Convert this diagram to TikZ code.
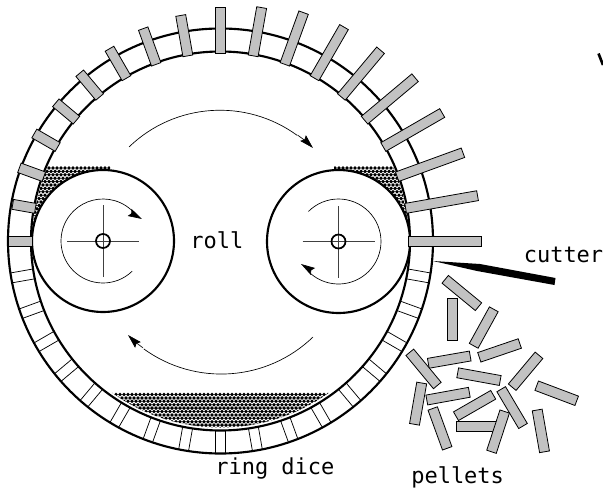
\documentclass[tikz,border=0pt]{standalone}
\usepackage{fontspec}
\setmonofont{DejaVu Sans Mono}
\usetikzlibrary{arrows.meta,calc}
\tikzset{
  x=.75pt,y=.75pt,
  ringline/.style={draw=black,line width=1.6pt},
  holeline/.style={draw=black,line width=.55pt},
  thinarc/.style={draw=black,line width=.5pt},
  crossline/.style={draw=black!75,line width=.75pt},
  pellet/.style={draw=black,fill=black!24,line width=.6pt,line join=miter},
  bigarrow/.style={thinarc,-{Stealth[length=10.5pt,width=6pt,inset=1.5pt]}},
  label/.style={font=\ttfamily\fontsize{16.5pt}{18pt}\selectfont,inner sep=0pt,anchor=base west,text=black}
}
\newcommand{\loosepellet}[4]{%
  \draw[pellet] ($(#1,#2)!3.75pt!90:(#3,#4)$) -- ($(#1,#2)!3.75pt!-90:(#3,#4)$) -- ($(#3,#4)!3.75pt!90:(#1,#2)$) -- ($(#3,#4)!3.75pt!-90:(#1,#2)$) -- cycle;}
\begin{document}
\begin{tikzpicture}
\useasboundingbox (0,0) rectangle (603,490);
\coordinate (c) at (220.5,249);
\coordinate (lr) at (103,249);
\coordinate (rr) at (338.5,248.5);
% feed material
\begin{scope}
  \clip (c) circle[radius=188];
  \clip (30,324) rectangle (110,240) (334,324) rectangle (412,240);
  \foreach \j in {0,...,26}{
    \pgfmathsetmacro{\yy}{322-\j*3.4}
    \pgfmathsetmacro{\off}{mod(\j,2)*2}
    \foreach \i in {0,...,20}{
      \fill[black] ({29+\off+\i*4},\yy) circle[radius=1.9];
      \fill[black] ({335+\off+\i*4},\yy) circle[radius=1.9];
    }
  }
\end{scope}
\begin{scope}
  \clip (c) circle[radius=186.5];
  \clip (100,97.5) rectangle (340,50);
  \foreach \j in {0,...,12}{
    \pgfmathsetmacro{\yy}{95.5-\j*3.4}
    \pgfmathsetmacro{\off}{mod(\j,2)*2}
    \foreach \i in {0,...,60}{
      \fill[black] ({100+\off+\i*4},\yy) circle[radius=1.9];
    }
  }
\end{scope}
% ring die
\draw[ringline] (c) circle[radius=212.5];
\draw[ringline] (c) circle[radius=189.5];
% empty holes
\foreach \a in {190,200,...,350}{
  \begin{scope}[shift={(c)},rotate=\a]
    \draw[holeline] (189,-5) -- (212,-5) (189,5) -- (212,5);
  \end{scope}
}
% rolls
\draw[ringline,fill=white] (lr) circle[radius=71];
\draw[ringline,fill=white] (rr) circle[radius=71.5];
% filled holes
\foreach \a/\r in {0/261,10/261,20/258,30/256,40/254,50/249,60/247,70/243,80/237,
  90/234,100/229,110/226,120/222,130/219,140/215,150/215,160/214,170/211,180/212}{
  \begin{scope}[shift={(c)},rotate=\a]
    \draw[pellet] (188,-5) rectangle (\r,5);
  \end{scope}
}
% roll hubs
\foreach \m in {lr,rr}{
  \draw[crossline] ($(\m)+(-36,0)$) -- ($(\m)+(36,0)$);
  \draw[crossline] ($(\m)+(0,-36)$) -- ($(\m)+(0,36)$);
  \draw[draw=black,line width=1.3pt] (\m) circle[radius=7];
}
\draw[thinarc] ($(lr)+(-46:42)$) arc[start angle=-46,end angle=-320,radius=42];
\draw[bigarrow] ($(lr)+(40:42)$) to[out=-50,in=152] (142,271);
\draw[thinarc] ($(rr)+(135:42.5)$) arc[start angle=135,end angle=-130,radius=42.5];
\draw[bigarrow] ($(rr)+(-130:42.5)$) to[out=140,in=-32] (301,226);
% rotation of the ring
\draw[thinarc] (129,343) arc[start angle=134,end angle=54,radius=131];
\draw[bigarrow] ($(c)+(54:131)$) to[out=-36,in=135] (313,342);
\draw[thinarc] (313,153) arc[start angle=-46,end angle=-126,radius=132];
\draw[bigarrow] ($(c)+(-126:132)$) to[out=144,in=-45] (128,155);
% cutter and loose pellets, in picture coordinates
\begin{scope}[shift={(0,490)},yscale=-1]
  \fill[black] (433,261) -- (480,264) -- (555.5,278) -- (554.5,285) -- (477,271) -- cycle;
  \draw[line width=2pt] (598.5,53.5) -- (603,65);
  \loosepellet{445.2}{279.3}{478.5}{306.7}
  \loosepellet{452.5}{298}{452.5}{340.7}
  \loosepellet{473.7}{345.8}{493.8}{309.3}
  \loosepellet{428.3}{363.3}{470.2}{356}
  \loosepellet{479.3}{357.3}{519.8}{343.5}
  \loosepellet{409.8}{352.3}{437.3}{385.5}
  \loosepellet{457.7}{372.8}{500.2}{380.5}
  \loosepellet{512.2}{387.2}{539}{355.3}
  \loosepellet{536.7}{385.7}{576.7}{400.8}
  \loosepellet{421.7}{383}{414.5}{424.3}
  \loosepellet{426.8}{400}{469.3}{392.3}
  \loosepellet{456}{416.2}{493.2}{394.8}
  \loosepellet{501.2}{389.2}{523}{426}
  \loosepellet{537.2}{410}{544.5}{451.8}
  \loosepellet{432.7}{408.5}{447.2}{448.3}
  \loosepellet{456.7}{426.3}{500}{426.3}
  \loosepellet{504.7}{411.5}{491.5}{451.8}
\end{scope}
% labels
\node[label] (rolltext) at (190,242) {roll};
\node[label] (cuttertext) at (523.5,228) {cutter};
\node[label] (dicetext) at (215,16) {ring dice};
\node[label] (pelletstext) at (411,7) {pellets};
\end{tikzpicture}
\end{document}
